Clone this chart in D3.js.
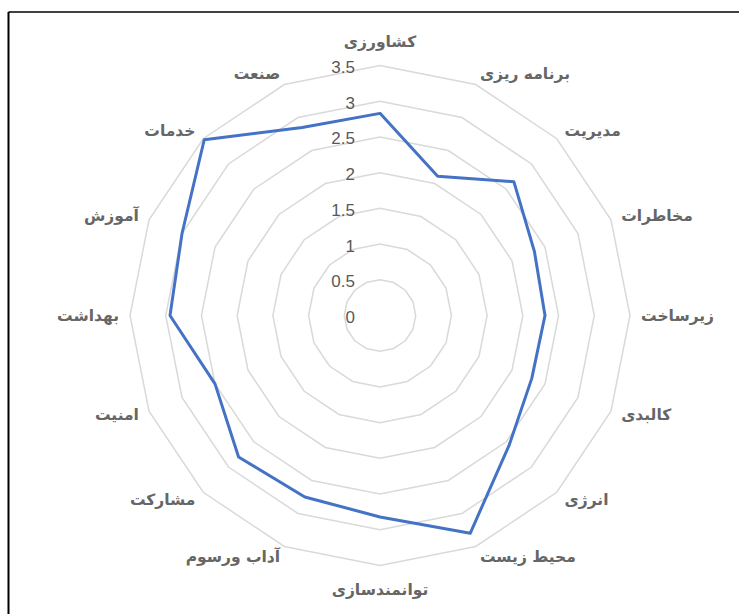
<!DOCTYPE html>
<html>
<head>
<meta charset="utf-8">
<script src="https://cdn.jsdelivr.net/npm/d3@7"></script>
<style>
  body { margin: 0; background: #fff; }
</style>
</head>
<body>
<svg id="chart"></svg>
<script>
// Data
const categories = ["کشاورزی", "برنامه ریزی", "مدیریت", "مخاطرات", "زیرساخت", "کالبدی", "انرژی", "محیط زیست",
  "توانمندسازی", "آداب ورسوم", "مشارکت", "امنیت", "بهداشت", "آموزش", "خدمات", "صنعت"];
const values = [2.83, 2.11, 2.65, 2.34, 2.31, 2.30, 2.56, 3.30, 2.82, 2.75, 2.80, 2.50, 2.94, 3.00, 3.48, 2.85];
const ticks = [0, 0.5, 1, 1.5, 2, 2.5, 3, 3.5];

// Constants
const width = 739;
const height = 614;
const cx = 380;
const cy = 315.5;
const radius = 250;

const svg = d3.select("#chart")
  .attr("width", width)
  .attr("height", height);

// frame (only left and top edges show)
svg.append("line").attr("x1", 8.5).attr("y1", 12).attr("x2", 8.5).attr("y2", height)
  .attr("stroke", "#000").attr("stroke-width", 2);
svg.append("line").attr("x1", 8.5).attr("y1", 12).attr("x2", width).attr("y2", 12)
  .attr("stroke", "#000").attr("stroke-width", 1.5);

const r = d3.scaleLinear().domain([0, 3.5]).range([0, radius]);
const angle = d3.scalePoint().domain(categories).range([0, 2 * Math.PI * (categories.length - 1) / categories.length]);

const g = svg.append("g").attr("transform", `translate(${cx},${cy})`);

const pt = (a, rr) => [rr * Math.sin(a), -rr * Math.cos(a)];

// grid rings
const ring = d3.line().curve(d3.curveLinearClosed);
g.selectAll(".ring")
  .data(ticks.filter(t => t > 0))
  .enter().append("path")
  .attr("d", t => ring(categories.map(c => pt(angle(c), r(t)))))
  .attr("fill", "none")
  .attr("stroke", "#d9d9d9")
  .attr("stroke-width", 1.5);

// tick labels
g.selectAll(".tick")
  .data(ticks)
  .enter().append("text")
  .attr("x", -25)
  .attr("y", t => -r(t) + 2)
  .attr("text-anchor", "end")
  .attr("dominant-baseline", "central")
  .attr("font-family", "Liberation Sans, Arial, sans-serif")
  .attr("font-size", 17)
  .attr("fill", "#595959")
  .text(t => t);

// data line
g.append("path")
  .datum(values)
  .attr("d", d3.line().curve(d3.curveLinearClosed)
    .x((d, i) => pt(angle(categories[i]), r(d))[0])
    .y((d, i) => pt(angle(categories[i]), r(d))[1]))
  .attr("fill", "none")
  .attr("stroke", "#4472c4")
  .attr("stroke-width", 3)
  .attr("stroke-linejoin", "round");

// category labels
g.selectAll(".cat")
  .data(categories)
  .enter().append("text")
  .each(function (c) {
    const a = angle(c);
    const [x, y] = pt(a, radius + 11);
    const s = Math.sin(a);
    const el = d3.select(this);
    el.attr("x", x)
      .attr("y", Math.abs(s) < 0.1 ? y - Math.cos(a) * 13 : y)
      .attr("text-anchor", Math.abs(s) < 0.1 ? "middle" : (s > 0 ? "start" : "end"));
  })
  .attr("dominant-baseline", "central")
  .attr("font-family", "DejaVu Sans, sans-serif")
  .attr("font-weight", "bold")
  .attr("font-size", 15.5)
  .attr("fill", "#666")
  .text(c => c);
</script>
</body>
</html>
